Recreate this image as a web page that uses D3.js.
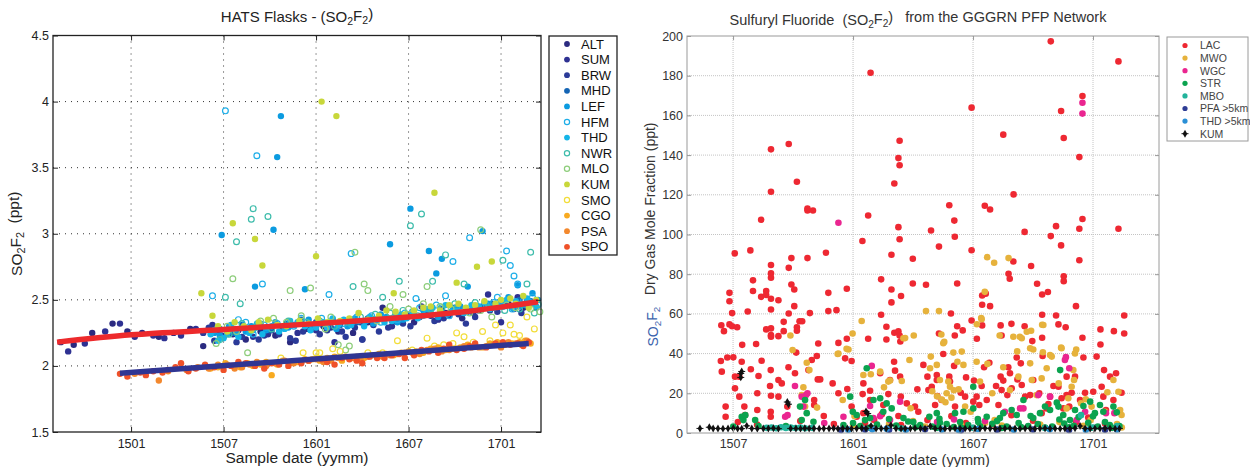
<!DOCTYPE html>
<html>
<head>
<meta charset="utf-8"/>
<script src="https://cdn.jsdelivr.net/npm/d3@7"></script>
<style>
body { margin: 0; background: #fff; }
text { font-family: "Liberation Sans", Arial, Helvetica, sans-serif; }
</style>
</head>
<body>
<svg id="chart" width="1250" height="467"></svg>
<script>
// ---------- left panel data: HATS flasks, [decimal year, ppt] ----------
var hatsTickYears = [2015, 2015.5, 2016, 2016.5, 2017];
var hatsTickLabels = ["1501", "1507", "1601", "1607", "1701"];
var hatsYTicks = [1.5, 2, 2.5, 3, 3.5, 4, 4.5];

var ALT = [[2014.62,2.18],[2014.69,2.16],[2014.79,2.25],[2014.90,2.32],[2014.98,2.26],[2015.06,2.25],[2015.15,2.22],[2015.23,2.25],[2015.32,2.28],[2015.39,2.15],[2015.47,2.27],[2015.55,2.24],[2015.62,2.20],[2015.70,2.26],[2015.78,2.23],[2015.86,2.18],[2015.95,2.28],[2016.04,2.30],[2016.12,2.26],[2016.20,2.25],[2016.28,2.33],[2016.36,2.44],[2016.45,2.36],[2016.53,2.33],[2016.62,2.38],[2016.70,2.40],[2016.79,2.36],[2016.88,2.42],[2016.96,2.44],[2017.04,2.47],[2017.12,2.44],[2017.18,2.48]];
var SUM = [[2014.66,2.11],[2014.75,2.17],[2014.86,2.26],[2014.94,2.32],[2015.02,2.22],[2015.12,2.23],[2015.18,2.21],[2015.27,2.23],[2015.35,2.28],[2015.44,2.31],[2015.50,2.22],[2015.58,2.27],[2015.66,2.22],[2015.74,2.24],[2015.82,2.29],[2015.90,2.25],[2016.00,2.27],[2016.10,2.18],[2016.18,2.31],[2016.25,2.20],[2016.33,2.35],[2016.41,2.30],[2016.50,2.38],[2016.57,2.45],[2016.66,2.35],[2016.75,2.42],[2016.85,2.40],[2016.93,2.54],[2017.00,2.33],[2017.09,2.52],[2017.16,2.47]];
var BRW = [[2015.39,2.25],[2015.45,2.19],[2015.52,2.25],[2015.60,2.22],[2015.69,2.20],[2015.76,2.27],[2015.86,2.21],[2015.93,2.26],[2016.02,2.24],[2016.08,2.29],[2016.14,2.26],[2016.21,2.29],[2016.25,2.20],[2016.31,2.31],[2016.39,2.29],[2016.47,2.32],[2016.56,2.37],[2016.64,2.34],[2016.72,2.38],[2016.81,2.32],[2016.90,2.45],[2016.98,2.41],[2017.07,2.43],[2017.14,2.50],
  [2015.42,2.29],[2015.49,2.23],[2015.57,2.18],[2015.64,2.27],[2015.72,2.23],[2015.80,2.24],[2015.89,2.19],[2015.97,2.29],[2016.06,2.27],[2016.16,2.22],[2016.24,2.33],[2016.34,2.26],[2016.43,2.34],[2016.51,2.30],[2016.60,2.40],[2016.69,2.36],[2016.77,2.39],[2016.86,2.37],[2016.94,2.42],[2017.02,2.46],[2017.11,2.40],[2017.19,2.44]];
var MHD = [[2015.48,2.28],[2015.60,2.31],[2015.75,2.27],[2015.92,2.35],[2016.05,2.31],[2016.22,2.33],[2016.35,2.36],[2016.52,2.40],[2016.68,2.43],[2016.82,2.41],[2016.95,2.47],[2017.10,2.50],
  [2015.55,2.25],[2015.68,2.30],[2015.84,2.32],[2016.00,2.33],[2016.13,2.31],[2016.28,2.36],[2016.43,2.37],[2016.60,2.39],[2016.75,2.44],[2016.89,2.44],[2017.03,2.46],[2017.16,2.49]];
var LEF = [[2015.49,2.99],[2015.77,3.03],[2015.79,3.58],[2015.81,3.89],[2016.40,2.92],[2016.51,3.19],[2016.61,2.87],[2016.68,2.81],[2016.65,2.70],[2016.90,3.02],[2017.09,2.61],[2015.67,2.60],[2015.94,2.58],[2016.82,2.60],[2015.45,2.25],[2015.53,2.30],[2015.62,2.26],[2015.70,2.32],[2015.85,2.29],[2015.98,2.31],[2016.08,2.33],[2016.17,2.30],[2016.27,2.34],[2016.38,2.37],[2016.47,2.35],[2016.58,2.42],[2016.71,2.39],[2016.78,2.45],[2016.87,2.43],[2017.00,2.48],[2017.13,2.46],[2017.20,2.50],
  [2015.48,2.23],[2015.57,2.25],[2015.65,2.30],[2015.73,2.27],[2015.78,2.33],[2015.88,2.31],[2015.96,2.35],[2016.02,2.32],[2016.11,2.28],[2016.21,2.36],[2016.31,2.32],[2016.35,2.39],[2016.44,2.33],[2016.53,2.38],[2016.62,2.40],[2016.66,2.37],[2016.74,2.43],[2016.84,2.42],[2016.93,2.47],[2016.96,2.44],[2017.04,2.52],[2017.10,2.45],[2017.17,2.55]];
var HFM = [[2015.51,3.93],[2015.68,3.59],[2016.19,2.85],[2016.74,2.79],[2016.83,2.97],[2017.03,2.87],[2017.05,2.76],[2017.07,2.68],[2017.09,2.62],[2015.44,2.53],[2015.71,2.62],[2016.07,2.54],[2016.54,2.51],[2016.70,2.53],[2016.98,2.52],[2015.47,2.29],[2015.58,2.35],[2015.72,2.31],[2015.88,2.30],[2016.03,2.36],[2016.15,2.32],[2016.30,2.38],[2016.44,2.35],[2016.60,2.41],[2016.76,2.44],[2016.92,2.46],[2017.06,2.43],[2017.17,2.52],
  [2015.53,2.27],[2015.62,2.33],[2015.66,2.24],[2015.79,2.32],[2015.92,2.36],[2016.00,2.31],[2016.09,2.35],[2016.22,2.37],[2016.35,2.33],[2016.48,2.40],[2016.56,2.44],[2016.65,2.46],[2016.72,2.38],[2016.87,2.45],[2016.96,2.48],[2017.01,2.45],[2017.12,2.49],[2017.20,2.46]];
var THD = [[2015.43,2.24],[2015.50,2.21],[2015.56,2.28],[2015.64,2.25],[2015.73,2.29],[2015.80,2.26],[2015.90,2.33],[2016.00,2.29],[2016.09,2.36],[2016.19,2.31],[2016.29,2.37],[2016.37,2.33],[2016.46,2.39],[2016.55,2.36],[2016.63,2.44],[2016.73,2.41],[2016.84,2.46],[2016.94,2.43],[2017.03,2.50],[2017.11,2.47],[2017.19,2.45],
  [2015.45,2.27],[2015.47,2.19],[2015.52,2.24],[2015.54,2.31],[2015.58,2.22],[2015.61,2.29],[2015.66,2.27],[2015.68,2.32],[2015.71,2.24],[2015.76,2.30],[2015.83,2.28],[2015.86,2.34],[2015.94,2.30],[2015.97,2.27],[2016.04,2.33],[2016.06,2.29],[2016.12,2.31],[2016.15,2.35],[2016.23,2.34],[2016.26,2.30],[2016.32,2.35],[2016.41,2.34],[2016.43,2.38],[2016.49,2.36],[2016.52,2.41],[2016.58,2.38],[2016.60,2.43],[2016.67,2.40],[2016.70,2.46],[2016.76,2.42],[2016.80,2.40],[2016.88,2.45],[2016.91,2.48],[2016.98,2.46],[2017.06,2.44],[2017.08,2.49],[2017.14,2.51],[2017.17,2.47]];
var NWR = [[2015.57,2.94],[2015.65,3.11],[2015.66,3.19],[2015.74,3.13],[2016.51,3.06],[2016.57,3.15],[2016.70,2.84],[2017.01,2.80],[2017.16,2.86],[2017.14,2.62],[2015.51,2.52],[2015.59,2.47],[2016.20,2.60],[2016.36,2.52],[2016.45,2.64],[2016.63,2.64],[2016.80,2.62],[2015.48,2.20],[2015.60,2.32],[2015.76,2.28],[2015.95,2.33],[2016.10,2.30],[2016.24,2.37],[2016.40,2.40],[2016.55,2.38],[2016.68,2.44],[2016.86,2.48],[2017.02,2.42],[2017.20,2.47],
  [2015.53,2.24],[2015.67,2.29],[2015.85,2.34],[2016.02,2.34],[2016.17,2.33],[2016.32,2.39],[2016.47,2.42],[2016.62,2.43],[2016.75,2.47],[2016.93,2.44],[2017.10,2.43],[2017.18,2.40]];
var MLO = [[2015.55,2.66],[2016.21,2.86],[2016.89,3.03],[2015.86,2.57],[2015.97,2.59],[2016.26,2.62],[2016.28,2.57],[2016.47,2.54],[2016.60,2.60],[2015.46,2.17],[2015.57,2.26],[2015.63,2.10],[2015.70,2.34],[2015.84,2.33],[2016.05,2.28],[2016.12,2.16],[2016.16,2.12],[2016.33,2.34],[2016.50,2.43],[2016.67,2.45],[2016.83,2.40],[2016.95,2.37],[2017.08,2.44],[2017.21,2.41],
  [2015.52,2.30],[2015.77,2.36],[2015.92,2.38],[2016.08,2.37],[2016.40,2.45],[2016.58,2.47],[2016.73,2.43],[2016.89,2.42],[2017.03,2.46],[2017.16,2.43],[2016.18,2.15]];
var KUMh = [[2016.03,4.00],[2016.11,3.89],[2015.55,3.08],[2015.67,2.96],[2015.71,2.76],[2016.00,2.83],[2016.64,3.31],[2016.87,2.75],[2016.95,2.79],[2015.38,2.55],[2016.42,2.55],[2016.76,2.63],[2017.00,2.50],[2015.44,2.38],[2015.52,2.26],[2015.61,2.30],[2015.69,2.33],[2015.79,2.31],[2015.91,2.34],[2016.01,2.36],[2016.13,2.34],[2016.23,2.40],[2016.34,2.38],[2016.43,2.41],[2016.53,2.42],[2016.62,2.45],[2016.72,2.46],[2016.81,2.44],[2016.91,2.49],[2017.05,2.51],[2017.15,2.44],[2017.19,2.50],
  [2015.47,2.30],[2015.56,2.33],[2015.65,2.27],[2015.74,2.35],[2015.84,2.30],[2015.96,2.32],[2016.06,2.33],[2016.18,2.36],[2016.28,2.35],[2016.38,2.42],[2016.48,2.39],[2016.58,2.44],[2016.67,2.42],[2016.77,2.47],[2016.86,2.46],[2016.97,2.47],[2017.08,2.47],[2017.12,2.53]];
var SMO = [[2015.81,2.06],[2015.93,2.10],[2016.00,2.10],[2016.02,2.10],[2016.09,2.13],[2016.13,2.11],[2016.28,2.10],[2016.36,2.10],[2016.44,2.19],[2016.52,2.12],[2016.60,2.21],[2016.64,2.15],[2016.69,2.16],[2016.74,2.17],[2016.76,2.25],[2016.80,2.22],[2016.85,2.18],[2016.90,2.26],[2016.94,2.19],[2016.97,2.31],[2017.01,2.25],[2017.05,2.31],[2017.07,2.24],[2017.10,2.23],[2017.14,2.37],[2017.18,2.28]];
var CGO = [[2015.40,2.00],[2015.47,1.99],[2015.55,2.00],[2015.63,2.02],[2015.70,2.01],[2015.76,1.93],[2015.82,2.04],[2015.90,2.03],[2015.98,2.05],[2016.06,2.06],[2016.14,2.04],[2016.22,2.07],[2016.30,2.08],[2016.38,2.09],[2016.46,2.10],[2016.54,2.11],[2016.62,2.13],[2016.70,2.12],[2016.78,2.14],[2016.86,2.15],[2016.94,2.17],[2017.02,2.16],[2017.10,2.18],[2017.16,2.17],
  [2015.43,1.98],[2015.51,2.02],[2015.59,1.99],[2015.66,2.00],[2015.73,2.03],[2015.79,2.01],[2015.86,2.02],[2015.94,2.05],[2016.02,2.04],[2016.10,2.07],[2016.18,2.06],[2016.26,2.06],[2016.34,2.09],[2016.42,2.08],[2016.50,2.11],[2016.58,2.10],[2016.66,2.14],[2016.74,2.13],[2016.82,2.16],[2016.90,2.14],[2016.98,2.18],[2017.06,2.17],[2017.13,2.19]];
var PSA = [[2015.15,1.89],[2015.30,1.97],[2015.42,1.98],[2015.52,2.01],[2015.60,1.99],[2015.68,2.03],[2015.78,2.02],[2015.88,2.02],[2015.96,2.04],[2016.04,2.03],[2016.12,2.06],[2016.20,2.06],[2016.28,2.07],[2016.36,2.07],[2016.44,2.09],[2016.52,2.10],[2016.60,2.12],[2016.68,2.11],[2016.76,2.13],[2016.84,2.14],[2016.92,2.15],[2017.00,2.14],[2017.08,2.17],[2017.14,2.19],
  [2015.02,1.94],[2015.20,1.96],[2015.36,1.99],[2015.47,2.01],[2015.56,1.98],[2015.64,2.01],[2015.73,2.00],[2015.83,2.04],[2015.92,2.03],[2016.00,2.05],[2016.08,2.04],[2016.16,2.07],[2016.24,2.05],[2016.32,2.08],[2016.40,2.08],[2016.48,2.10],[2016.56,2.09],[2016.64,2.13],[2016.72,2.12],[2016.80,2.15],[2016.88,2.14],[2016.96,2.16],[2017.04,2.18],[2017.11,2.16]];
var SPO = [[2014.94,1.94],[2014.98,1.92],[2015.05,1.95],[2015.12,1.96],[2015.20,1.97],[2015.27,2.02],[2015.35,1.98],[2015.45,1.99],[2015.54,2.00],[2015.62,2.02],[2015.72,1.98],[2015.80,2.01],[2015.92,2.02],[2016.03,2.05],[2016.10,2.01],[2016.18,2.05],[2016.25,2.02],[2016.33,2.06],[2016.41,2.08],[2016.48,2.06],[2016.57,2.12],[2016.66,2.10],[2016.72,2.16],[2016.80,2.13],[2016.86,2.17],[2016.97,2.17],[2017.05,2.16],[2017.12,2.15],
  [2015.08,1.93],[2015.17,1.95],[2015.24,1.99],[2015.31,1.96],[2015.40,2.01],[2015.50,1.97],[2015.58,2.03],[2015.67,2.00],[2015.76,2.02],[2015.85,2.00],[2015.96,2.04],[2016.06,2.03],[2016.14,2.06],[2016.22,2.04],[2016.29,2.07],[2016.37,2.06],[2016.45,2.09],[2016.53,2.08],[2016.61,2.11],[2016.69,2.13],[2016.76,2.12],[2016.83,2.15],[2016.92,2.14],[2017.01,2.18],[2017.09,2.17],[2017.15,2.18]];

// hemispheric fits
var nhFit = [[2014.60,2.18],[2015.0,2.235],[2015.5,2.275],[2016.0,2.32],[2016.5,2.37],[2016.8,2.41],[2017.0,2.445],[2017.2,2.485]];
var shFit = [[2014.94,1.945],[2017.15,2.17]];

// ---------- right panel data: GGGRN PFP, [decimal year, ppt] ----------
var pfpTickYears = [2015.5, 2016, 2016.5, 2017];
var pfpTickLabels = ["1507", "1601", "1607", "1701"];
var pfpYTicks = [0, 20, 40, 60, 80, 100, 120, 140, 160, 180, 200];

var LAC = [[2015.451,54.3],[2015.462,51.3],[2015.485,70.6],[2015.485,66.4],[2015.485,54.7],[2015.496,60.4],[2015.496,53.8],[2015.507,90.5],[2015.517,53.3],[2015.538,44.4],[2015.561,61.2],[2015.572,92.0],[2015.583,76.9],[2015.583,71.5],[2015.596,44.8],[2015.617,107.4],[2015.617,68.6],[2015.638,71.5],[2015.638,69.5],[2015.638,52.2],[2015.658,142.9],[2015.658,121.5],[2015.658,84.6],[2015.658,80.4],[2015.658,78.2],[2015.658,67.6],[2015.658,62.2],[2015.658,52.7],[2015.658,49.3],[2015.658,48.5],[2015.689,66.9],[2015.689,48.8],[2015.711,56.0],[2015.711,51.3],[2015.732,145.6],[2015.732,83.2],[2015.732,60.2],[2015.743,88.1],[2015.743,74.8],[2015.755,72.3],[2015.755,63.9],[2015.766,126.6],[2015.766,53.3],[2015.766,51.5],[2015.777,56.3],[2015.788,56.3],[2015.81,88.1],[2015.81,112.1],[2015.81,113.1],[2015.82,60.4],[2015.833,112.1],[2015.855,45.1],[2015.887,90.8],[2015.897,70.6],[2015.897,61.4],[2015.931,61.9],[2015.939,45.4],[2015.974,47.5],[2015.974,72.7],[2016.039,96.7],[2016.063,109.6],[2016.063,47.5],[2016.073,181.5],[2016.117,59.6],[2016.117,77.4],[2016.139,53.5],[2016.139,47.1],[2016.16,89.8],[2016.16,72.3],[2016.16,65.8],[2016.172,125.7],[2016.172,50.5],[2016.189,138.5],[2016.189,103.7],[2016.194,147.2],[2016.194,134.9],[2016.194,97.6],[2016.189,51.2],[2016.194,49.1],[2016.2,69.0],[2016.197,46.1],[2016.249,87.8],[2016.249,75.3],[2016.304,74.7],[2016.325,102.0],[2016.358,93.9],[2016.358,50.1],[2016.401,114.7],[2016.408,60.2],[2016.422,107.0],[2016.424,98.9],[2016.424,49.1],[2016.434,75.3],[2016.434,53.8],[2016.457,51.7],[2016.494,163.9],[2016.494,92.1],[2016.494,56.7],[2016.516,47.5],[2016.538,69.3],[2016.538,64.6],[2016.538,54.2],[2016.549,114.5],[2016.553,70.2],[2016.571,112.6],[2016.571,63.9],[2016.615,54.2],[2016.619,49.1],[2016.626,150.3],[2016.648,80.2],[2016.653,77.7],[2016.66,55.0],[2016.668,86.4],[2016.669,120.2],[2016.715,101.3],[2016.715,53.8],[2016.742,84.1],[2016.747,46.3],[2016.767,75.2],[2016.788,59.6],[2016.788,69.8],[2016.788,48.0],[2016.812,71.0],[2016.824,197.3],[2016.824,99.2],[2016.846,104.2],[2016.846,59.2],[2016.856,54.7],[2016.867,162.2],[2016.867,94.5],[2016.878,148.6],[2016.878,79.0],[2016.878,76.5],[2016.886,53.3],[2016.929,63.9],[2016.943,139.0],[2016.943,102.9],[2016.943,87.0],[2016.956,169.8],[2016.956,107.8],[2016.956,48.0],[2017.031,52.2],[2017.031,44.6],[2017.087,51.3],[2017.106,187.2],[2017.106,102.9],[2017.13,59.2],[2017.13,50.1],
  [2015.449,36.3],[2015.453,30.9],[2015.469,8.2],[2015.469,13.3],[2015.476,38.0],[2015.501,38.1],[2015.508,28.4],[2015.508,22.5],[2015.526,18.3],[2015.526,28.4],[2015.536,35.9],[2015.547,13.3],[2015.55,9.1],[2015.574,32.1],[2015.601,20.0],[2015.601,11.6],[2015.606,28.7],[2015.619,36.4],[2015.654,23.7],[2015.657,10.7],[2015.657,8.2],[2015.657,31.7],[2015.658,18.8],[2015.689,26.7],[2015.689,18.3],[2015.703,25.0],[2015.726,13.3],[2015.731,33.1],[2015.758,30.1],[2015.763,40.5],[2015.814,31.7],[2015.828,36.8],[2015.838,16.6],[2015.838,14.1],[2015.849,38.8],[2015.853,27.0],[2015.863,27.0],[2015.878,8.6],[2015.915,25.0],[2015.939,20.0],[2015.967,37.6],[2015.976,22.2],[2015.994,36.3],[2015.994,13.3],[2016.015,8.2],[2016.04,19.6],[2016.043,25.0],[2016.043,10.0],[2016.071,21.3],[2016.071,16.6],[2016.088,6.5],[2016.113,30.1],[2016.126,14.1],[2016.147,19.6],[2016.154,26.7],[2016.171,35.9],[2016.175,31.4],[2016.189,8.6],[2016.196,28.4],[2016.199,18.3],[2016.224,14.9],[2016.258,13.3],[2016.268,22.0],[2016.272,10.7],[2016.293,34.3],[2016.31,28.4],[2016.314,21.7],[2016.328,23.3],[2016.342,14.1],[2016.349,29.2],[2016.349,26.7],[2016.351,18.6],[2016.369,16.6],[2016.376,39.8],[2016.401,28.4],[2016.404,25.9],[2016.421,33.8],[2016.425,13.3],[2016.449,20.3],[2016.467,18.3],[2016.471,28.0],[2016.501,15.8],[2016.504,26.4],[2016.515,18.3],[2016.526,14.1],[2016.536,23.7],[2016.546,33.1],[2016.557,16.6],[2016.568,35.4],[2016.596,23.7],[2016.606,14.1],[2016.615,28.4],[2016.619,21.7],[2016.626,26.4],[2016.643,19.1],[2016.647,33.1],[2016.654,30.1],[2016.661,22.5],[2016.682,38.0],[2016.685,27.0],[2016.699,35.1],[2016.703,24.2],[2016.717,18.3],[2016.738,19.1],[2016.751,26.7],[2016.776,20.0],[2016.786,10.0],[2016.79,38.8],[2016.807,12.4],[2016.814,14.6],[2016.821,18.3],[2016.835,23.7],[2016.856,23.3],[2016.869,17.5],[2016.876,12.4],[2016.89,19.1],[2016.89,28.4],[2016.901,13.3],[2016.911,20.3],[2016.925,28.4],[2016.946,16.6],[2016.96,38.0],[2016.967,20.3],[2017.001,20.8],[2017.015,38.5],[2017.036,23.3],[2017.043,18.3],[2017.046,31.7],[2017.054,11.6],[2017.071,28.4],[2017.085,16.6],[2017.096,30.1],[2017.119,20.3],
  [2015.52,5.5],[2015.60,4.2],[2015.78,6.0],[2015.92,4.5],[2016.05,5.2],[2016.20,4.0],[2016.31,6.5],[2016.47,5.0],[2016.58,4.3],[2016.75,6.2],[2016.93,5.5],[2017.05,4.8],[2016.12,9.5],[2016.41,8.5],[2016.66,9.0],[2016.98,7.8]];
var MWO = [[2015.739,49.1],[2015.748,41.8],[2015.939,40.0],[2015.973,42.4],[2015.998,50.1],[2016.036,56.4],[2016.217,47.8],[2016.253,49.1],[2016.304,61.4],[2016.358,61.4],[2016.368,49.6],[2016.38,45.9],[2016.516,54.8],[2016.534,57.9],[2016.549,71.1],[2016.559,88.6],[2016.588,85.8],[2016.611,49.1],[2016.648,88.1],[2016.695,48.5],[2016.684,41.1],[2016.742,51.5],[2016.751,42.1],[2016.788,54.5],[2016.791,40.7],[2016.867,43.0],[2016.93,42.1],
  [2015.807,35.4],[2015.818,31.7],[2015.793,23.0],[2015.786,19.1],[2015.80,13.3],[2015.85,12.8],[2015.936,39.8],[2015.957,16.6],[2015.981,42.1],[2016.006,8.6],[2016.043,29.2],[2016.074,29.6],[2016.113,30.9],[2016.129,23.0],[2016.147,25.9],[2016.154,26.4],[2016.203,26.2],[2016.21,47.7],[2016.235,36.8],[2016.24,12.5],[2016.324,38.5],[2016.321,32.6],[2016.349,34.3],[2016.362,26.7],[2016.376,45.2],[2016.397,25.9],[2016.404,23.3],[2016.39,20.0],[2016.33,21.0],[2016.35,18.5],[2016.37,16.8],[2016.385,15.5],[2016.41,17.8],[2016.42,21.5],[2016.418,40.5],[2016.435,35.9],[2016.453,41.0],[2016.46,34.3],[2016.467,13.3],[2016.44,22.0],[2016.49,10.7],[2016.515,35.9],[2016.529,25.9],[2016.536,57.3],[2016.56,34.8],[2016.58,20.0],[2016.59,6.5],[2016.626,33.1],[2016.654,21.7],[2016.689,28.4],[2016.668,48.5],[2016.703,47.7],[2016.724,51.0],[2016.738,35.1],[2016.738,42.7],[2016.745,26.7],[2016.765,19.1],[2016.786,27.5],[2016.793,54.4],[2016.807,32.6],[2016.821,39.3],[2016.828,38.5],[2016.857,25.0],[2016.869,42.7],[2016.89,12.4],[2016.897,17.5],[2016.911,23.3],[2016.921,26.7],[2016.918,31.7],[2016.925,40.1],[2016.994,13.3],[2017.05,10.7],[2017.085,26.7],[2017.106,20.8],[2017.113,11.6],[2017.119,9.1],[2017.06,20.5],[2016.99,6.5],[2016.95,15.0],[2016.97,17.0],
  [2016.0,3.5],[2016.15,4.5],[2016.3,3.2],[2016.45,4.0],[2016.62,3.8],[2016.78,4.2],[2016.96,3.6],[2017.1,4.5],[2017.12,2.8],[2016.86,5.5],[2016.55,5.0],[2016.25,6.0]];
var WGC = [[2015.939,105.9],[2016.956,166.4],[2016.956,160.9],[2016.887,38.2],[2015.758,23.7],[2015.717,8.2],[2015.727,9.0],[2015.786,18.3],[2015.804,19.1],[2015.81,20.0],[2015.793,13.3],[2015.96,8.2],[2016.078,33.8],[2016.071,13.6],[2016.085,7.5],[2016.113,8.5],[2016.154,6.5],[2016.196,15.8],[2016.421,6.8],[2016.633,10.7],[2016.696,12.4],[2016.71,12.4],[2016.772,19.1],[2016.821,18.3],[2016.883,36.8],[2016.901,32.6],[2016.932,6.5],[2016.967,10.7],[2017.054,10.0],[2017.089,10.0],[2016.35,5.5],[2016.55,6.0],[2015.88,5.0]];
var STR = [[2015.536,8.2],[2015.543,6.5],[2015.551,9.0],[2015.501,3.2],[2015.592,6.5],[2015.606,3.5],[2015.72,3.5],[2015.779,13.3],[2015.8,16.6],[2015.807,10.0],[2015.786,6.5],[2015.835,5.7],[2015.988,18.3],[2015.999,10.7],[2016.015,9.1],[2016.057,32.6],[2016.071,7.5],[2016.085,16.6],[2016.113,17.5],[2016.126,10.7],[2016.14,14.9],[2016.161,12.4],[2016.21,7.5],[2016.251,5.5],[2016.318,8.2],[2016.349,10.0],[2016.362,5.2],[2016.425,10.0],[2016.446,5.5],[2016.46,10.7],[2016.501,12.4],[2016.501,23.3],[2016.522,5.5],[2016.557,8.2],[2016.612,7.5],[2016.626,10.0],[2016.661,11.6],[2016.682,9.1],[2016.71,16.6],[2016.751,7.5],[2016.779,10.0],[2016.8,13.3],[2016.821,11.6],[2016.849,15.3],[2016.856,13.3],[2016.863,31.7],[2016.876,9.1],[2016.904,6.5],[2016.925,11.6],[2016.96,13.6],[2016.988,15.8],[2017.008,10.0],[2017.029,14.1],[2017.043,10.7],[2017.085,13.3],[2017.099,10.4],[2017.05,5.5],
  [2015.96,4.0],[2016.0,5.0],[2016.03,3.5],[2016.1,4.2],[2016.18,3.8],[2016.23,5.8],[2016.28,4.0],[2016.33,3.2],[2016.39,4.5],[2016.42,3.0],[2016.48,4.0],[2016.53,3.4],[2016.58,4.6],[2016.64,3.2],[2016.69,5.0],[2016.73,3.5],[2016.77,4.5],[2016.83,3.2],[2016.88,4.8],[2016.92,3.6],[2016.98,5.2],[2017.02,3.3],[2017.07,4.0],[2017.11,3.5],[2016.05,6.5],[2016.15,7.0],[2016.36,7.2],[2016.6,6.0],[2016.86,6.8],[2016.94,8.0],[2017.0,8.4],[2016.74,8.6],[2016.52,7.0],
  [2016.45,2.8],[2016.62,2.5],[2016.8,2.7],[2016.99,2.6],[2016.26,2.9],[2016.07,2.7],[2016.7,3.0],[2016.9,2.9],[2017.08,2.6],[2016.35,2.6]];
var MBO = [[2015.64,2.6],[2015.66,2.8],[2015.68,2.4],[2015.70,2.9],[2015.72,2.5],[2015.74,2.7],[2015.76,2.5],[2015.78,2.8],[2015.80,2.4],[2015.83,2.6],[2016.2,2.4],[2016.5,2.6],[2016.8,2.5],[2017.0,2.7],[2017.1,3.5],[2016.95,9.0]];
var PFA = [[2015.95,1.5],[2016.05,1.8],[2016.15,1.6],[2016.3,1.9],[2016.45,1.4],[2016.6,1.7],[2016.75,1.8],[2016.9,1.5],[2017.05,1.7]];
var THDhi = [[2015.98,1.7],[2016.08,1.9],[2016.22,1.6],[2016.37,1.8],[2016.52,2.0],[2016.67,1.7],[2016.82,1.9],[2016.97,1.6],[2017.1,1.8],[2016.14,2.1],[2016.44,1.5]];
var KUM = [[2015.362,2.3],[2015.401,2.9],[2015.417,2.3],[2015.437,2.3],[2015.458,2.2],[2015.479,2.3],[2015.501,2.4],[2015.519,2.3],[2015.536,2.2],[2015.557,3.6],[2015.578,2.3],[2015.601,2.2],[2015.626,2.3],[2015.647,2.3],[2015.668,2.4],[2015.689,2.2],[2015.740,2.3],[2015.762,2.3],[2015.781,2.2],[2015.799,2.4],[2015.817,2.3],[2015.837,2.3],[2015.859,2.2],[2015.878,2.3],[2015.9,2.3],[2015.919,2.4],[2015.937,2.2],[2015.957,2.3],[2015.976,2.3],[2015.994,2.2],[2016.015,2.3],[2016.036,2.4],[2016.054,2.3],[2016.075,3.6],[2016.096,2.2],[2016.117,2.3],[2016.138,2.3],[2016.158,3.9],[2016.179,2.3],[2016.2,2.2],[2016.217,2.3],[2016.239,2.3],[2016.258,2.4],[2016.281,2.3],[2016.3,2.2],[2016.322,3.4],[2016.342,2.3],[2016.364,2.3],[2016.383,2.2],[2016.404,2.3],[2016.425,2.4],[2016.446,2.3],[2016.467,2.3],[2016.487,2.2],[2016.508,2.3],[2016.529,2.3],[2016.55,2.4],[2016.571,2.3],[2016.592,2.2],[2016.612,2.3],[2016.633,2.3],[2016.654,2.4],[2016.675,2.3],[2016.696,2.2],[2016.717,2.3],[2016.738,2.3],[2016.758,2.2],[2016.779,2.3],[2016.8,2.4],[2016.821,2.3],[2016.842,2.3],[2016.863,2.2],[2016.883,2.3],[2016.904,2.3],[2016.925,2.4],[2016.946,3.5],[2016.967,2.3],[2016.988,2.2],[2017.008,2.3],[2017.029,2.3],[2017.05,2.4],[2017.071,2.3],[2017.092,2.2],[2017.11,2.3],
  [2015.532,30.0],[2015.532,28.0],[2015.536,31.0],[2015.726,15.6],[2015.731,14.5],[2016.054,10.8],[2016.061,9.8]];

var svg = d3.select("#chart");

function subLabel(sel, parts) {
  // parts: [text, isSub, backToBaseline]
  parts.forEach(function(p) {
    var t = sel.append("tspan").text(p[0]);
    if (p[1]) t.attr("font-size", "0.7em").attr("dy", "0.3em");
    else if (p[2]) t.attr("dy", "-0.3em");
  });
}

// ================= LEFT PANEL =================
var L = {x0: 53, x1: 541, y0: 35.5, y1: 432};
var lx = d3.scaleLinear().domain([2014.578, 2017.216]).range([L.x0, L.x1]);
var ly = d3.scaleLinear().domain([1.5, 4.5]).range([L.y1, L.y0]);

var lg = svg.append("g");

// dotted grid
lg.selectAll("line.vg").data(hatsTickYears).enter().append("line")
    .attr("x1", function(d) { return lx(d); }).attr("x2", function(d) { return lx(d); })
    .attr("y1", L.y0).attr("y2", L.y1)
    .attr("stroke", "#333").attr("stroke-width", 1).attr("stroke-dasharray", "1,5");
lg.selectAll("line.hg").data(hatsYTicks.slice(1, -1)).enter().append("line")
    .attr("x1", L.x0).attr("x2", L.x1)
    .attr("y1", function(d) { return ly(d); }).attr("y2", function(d) { return ly(d); })
    .attr("stroke", "#333").attr("stroke-width", 1).attr("stroke-dasharray", "1,5");

var hatsStations = [
  {name: "ALT", data: ALT, color: "#2b2a80", open: false},
  {name: "SUM", data: SUM, color: "#2e3192", open: false},
  {name: "BRW", data: BRW, color: "#2b3a98", open: false},
  {name: "MHD", data: MHD, color: "#1464b4", open: false},
  {name: "LEF", data: LEF, color: "#0b9be0", open: false},
  {name: "HFM", data: HFM, color: "#1eaee8", open: true},
  {name: "THD", data: THD, color: "#14b5e8", open: false},
  {name: "NWR", data: NWR, color: "#3dbcab", open: true},
  {name: "MLO", data: MLO, color: "#8dcd7a", open: true},
  {name: "KUM", data: KUMh, color: "#c8d73a", open: false},
  {name: "SMO", data: SMO, color: "#f2dd3a", open: true},
  {name: "CGO", data: CGO, color: "#f8aa20", open: false},
  {name: "PSA", data: PSA, color: "#f3882d", open: false},
  {name: "SPO", data: SPO, color: "#ef5129", open: false}
];

hatsStations.forEach(function(s) {
  lg.append("g").selectAll("circle").data(s.data).enter().append("circle")
      .attr("cx", function(d) { return lx(d[0]); })
      .attr("cy", function(d) { return ly(d[1]); })
      .attr("r", s.open ? 2.9 : 3.2)
      .attr("fill", s.open ? "none" : s.color)
      .attr("stroke", s.open ? s.color : "none")
      .attr("stroke-width", 1.2);
});

var fitLine = d3.line().curve(d3.curveMonotoneX)
    .x(function(d) { return lx(d[0]); })
    .y(function(d) { return ly(d[1]); });
lg.append("path").datum(shFit).attr("d", fitLine)
    .attr("fill", "none").attr("stroke", "#2f3593").attr("stroke-width", 5.5);
lg.append("path").datum(nhFit).attr("d", fitLine)
    .attr("fill", "none").attr("stroke", "#ed2a2c").attr("stroke-width", 5.5);

// axes (MATLAB-style inward ticks on all four sides)
var lxAxis = d3.axisBottom(lx).tickValues(hatsTickYears)
    .tickFormat(function(d, i) { return hatsTickLabels[i]; })
    .tickSize(-5).tickSizeOuter(0).tickPadding(7);
var lyAxis = d3.axisLeft(ly).tickValues(hatsYTicks)
    .tickFormat(d3.format("~g")).tickSize(-5).tickSizeOuter(0).tickPadding(4);

lg.append("g").attr("transform", "translate(0," + L.y1 + ")").call(lxAxis);
lg.append("g").attr("transform", "translate(" + L.x0 + ",0)").call(lyAxis);
lg.append("g").attr("transform", "translate(0," + L.y0 + ")")
    .call(d3.axisTop(lx).tickValues(hatsTickYears).tickSize(-5).tickSizeOuter(0).tickFormat(""));
lg.append("g").attr("transform", "translate(" + L.x1 + ",0)")
    .call(d3.axisRight(ly).tickValues(hatsYTicks).tickSize(-5).tickSizeOuter(0).tickFormat(""));
lg.selectAll(".domain").remove();
lg.selectAll(".tick line").attr("stroke", "#222");
lg.selectAll(".tick text").attr("font-size", 12.5).attr("fill", "#222")
    .style("font-family", "'Liberation Sans', Arial, sans-serif");
lg.append("rect").attr("x", L.x0).attr("y", L.y0)
    .attr("width", L.x1 - L.x0).attr("height", L.y1 - L.y0)
    .attr("fill", "none").attr("stroke", "#222").attr("stroke-width", 1.3);

// titles
var lt = lg.append("text").attr("x", (L.x0 + L.x1) / 2).attr("y", 22)
    .attr("text-anchor", "middle").attr("font-size", 15).attr("fill", "#222");
subLabel(lt, [["HATS Flasks - (SO"], ["2", true], ["F", false, true], ["2", true], [")", false, true]]);

lg.append("text").attr("x", (L.x0 + L.x1) / 2).attr("y", 463)
    .attr("text-anchor", "middle").attr("font-size", 15.5).attr("fill", "#222")
    .text("Sample date (yymm)");

var lyl = lg.append("text").attr("transform", "translate(22," + ((L.y0 + L.y1) / 2) + ") rotate(-90)")
    .attr("text-anchor", "middle").attr("font-size", 15.5).attr("fill", "#222")
    .style("white-space", "pre");
subLabel(lyl, [["SO"], ["2", true], ["F", false, true], ["2", true], ["  (ppt)", false, true]]);

// legend
var lleg = svg.append("g");
lleg.append("rect").attr("x", 549).attr("y", 36).attr("width", 68).attr("height", 219)
    .attr("fill", "#fff").attr("stroke", "#222").attr("stroke-width", 1.3);
hatsStations.forEach(function(s, i) {
  var y = 44 + i * 15.6;
  lleg.append("circle").attr("cx", 567).attr("cy", y)
      .attr("r", s.open ? 2.6 : 2.9)
      .attr("fill", s.open ? "none" : s.color)
      .attr("stroke", s.open ? s.color : "none").attr("stroke-width", 1.2);
  lleg.append("text").attr("x", 581).attr("y", y + 4.6)
      .attr("font-size", 13).attr("fill", "#111").text(s.name);
});

// ================= RIGHT PANEL =================
var R = {x0: 687, x1: 1159, y0: 36, y1: 433};
var rx = d3.scaleLinear().domain([2015.308, 2017.275]).range([R.x0, R.x1]);
var ry = d3.scaleLinear().domain([0, 200]).range([R.y1, R.y0]);

var rg = svg.append("g");

rg.selectAll("line.vg").data(pfpTickYears).enter().append("line")
    .attr("x1", function(d) { return rx(d); }).attr("x2", function(d) { return rx(d); })
    .attr("y1", R.y0).attr("y2", R.y1)
    .attr("stroke", "#c4c4c4").attr("stroke-width", 1).attr("stroke-dasharray", "1,1");
rg.selectAll("line.hg").data(pfpYTicks.slice(1, -1)).enter().append("line")
    .attr("x1", R.x0).attr("x2", R.x1)
    .attr("y1", function(d) { return ry(d); }).attr("y2", function(d) { return ry(d); })
    .attr("stroke", "#c4c4c4").attr("stroke-width", 1).attr("stroke-dasharray", "1,1");

var pfpSites = [
  {name: "LAC", data: LAC, color: "#ee2832"},
  {name: "MWO", data: MWO, color: "#e6b23c"},
  {name: "WGC", data: WGC, color: "#ea2590"},
  {name: "STR", data: STR, color: "#0ba34f"},
  {name: "MBO", data: MBO, color: "#22b39b"},
  {name: "PFA >5km", data: PFA, color: "#2e3d95"},
  {name: "THD >5km", data: THDhi, color: "#2a8fd6"},
  {name: "KUM", data: KUM, color: "#111111", cross: true}
];

var diamond = d3.symbol().type(d3.symbolDiamond).size(18);
pfpSites.forEach(function(s) {
  var g = rg.append("g");
  if (s.cross) {
    var m = g.selectAll("g").data(s.data).enter().append("g")
        .attr("transform", function(d) { return "translate(" + rx(d[0]) + "," + ry(d[1]) + ")"; });
    m.append("path").attr("d", diamond).attr("fill", s.color);
    m.append("line").attr("x1", -3.5).attr("x2", 3.5).attr("stroke", s.color).attr("stroke-width", 1);
  } else {
    g.selectAll("circle").data(s.data).enter().append("circle")
        .attr("cx", function(d) { return rx(d[0]); })
        .attr("cy", function(d) { return ry(d[1]); })
        .attr("r", 3.3).attr("fill", s.color);
  }
});

var rxAxis = d3.axisBottom(rx).tickValues(pfpTickYears)
    .tickFormat(function(d, i) { return pfpTickLabels[i]; })
    .tickSize(-4).tickSizeOuter(0).tickPadding(6);
var ryAxis = d3.axisLeft(ry).tickValues(pfpYTicks)
    .tickFormat(d3.format("d")).tickSize(-4).tickSizeOuter(0).tickPadding(4);
rg.append("g").attr("transform", "translate(0," + R.y1 + ")").call(rxAxis);
rg.append("g").attr("transform", "translate(" + R.x0 + ",0)").call(ryAxis);
rg.append("g").attr("transform", "translate(0," + R.y0 + ")")
    .call(d3.axisTop(rx).tickValues(pfpTickYears).tickSize(-4).tickSizeOuter(0).tickFormat(""));
rg.append("g").attr("transform", "translate(" + R.x1 + ",0)")
    .call(d3.axisRight(ry).tickValues(pfpYTicks).tickSize(-4).tickSizeOuter(0).tickFormat(""));
rg.selectAll(".domain").remove();
rg.selectAll(".tick line").attr("stroke", "#999");
rg.selectAll(".tick text").attr("font-size", 12.5).attr("fill", "#333")
    .style("font-family", "'Liberation Sans', Arial, sans-serif");
rg.append("rect").attr("x", R.x0).attr("y", R.y0)
    .attr("width", R.x1 - R.x0).attr("height", R.y1 - R.y0)
    .attr("fill", "none").attr("stroke", "#9a9a9a").attr("stroke-width", 1);

var rt = rg.append("text").attr("x", 918).attr("y", 25)
    .attr("text-anchor", "middle").attr("font-size", 14.5).attr("fill", "#333")
    .style("white-space", "pre");
subLabel(rt, [["Sulfuryl Fluoride  (SO"], ["2", true], ["F", false, true], ["2", true], [")   from the GGGRN PFP Network", false, true]]);

rg.append("text").attr("x", (R.x0 + R.x1) / 2).attr("y", 465)
    .attr("text-anchor", "middle").attr("font-size", 14.5).attr("fill", "#333")
    .text("Sample date (yymm)");

var ryl = rg.append("text").attr("transform", "translate(658," + ((R.y0 + R.y1) / 2) + ") rotate(-90)")
    .attr("text-anchor", "middle").attr("font-size", 14).attr("fill", "#333")
    .style("white-space", "pre");
var so = ryl.append("tspan").attr("fill", "#3b63ad");
so.append("tspan").text("SO");
so.append("tspan").text("2").attr("font-size", "0.7em").attr("dy", "0.3em");
so.append("tspan").text("F").attr("dy", "-0.3em");
so.append("tspan").text("2").attr("font-size", "0.7em").attr("dy", "0.3em");
ryl.append("tspan").text("   Dry Gas Mole Fraction (ppt)").attr("dy", "-0.3em");

// legend
var rleg = svg.append("g");
rleg.append("rect").attr("x", 1167).attr("y", 37).attr("width", 81).attr("height", 104)
    .attr("fill", "#fff").attr("stroke", "#9a9a9a").attr("stroke-width", 1);
pfpSites.forEach(function(s, i) {
  var y = 45.5 + i * 12.6;
  if (s.cross) {
    rleg.append("path").attr("d", diamond)
        .attr("transform", "translate(1185," + y + ")").attr("fill", s.color);
    rleg.append("line").attr("x1", 1181.5).attr("x2", 1188.5).attr("y1", y).attr("y2", y)
        .attr("stroke", s.color);
  } else {
    rleg.append("circle").attr("cx", 1185).attr("cy", y).attr("r", 2.6).attr("fill", s.color);
  }
  rleg.append("text").attr("x", 1200).attr("y", y + 3.8)
      .attr("font-size", 10.5).attr("fill", "#444").text(s.name);
});
</script>
</body>
</html>
